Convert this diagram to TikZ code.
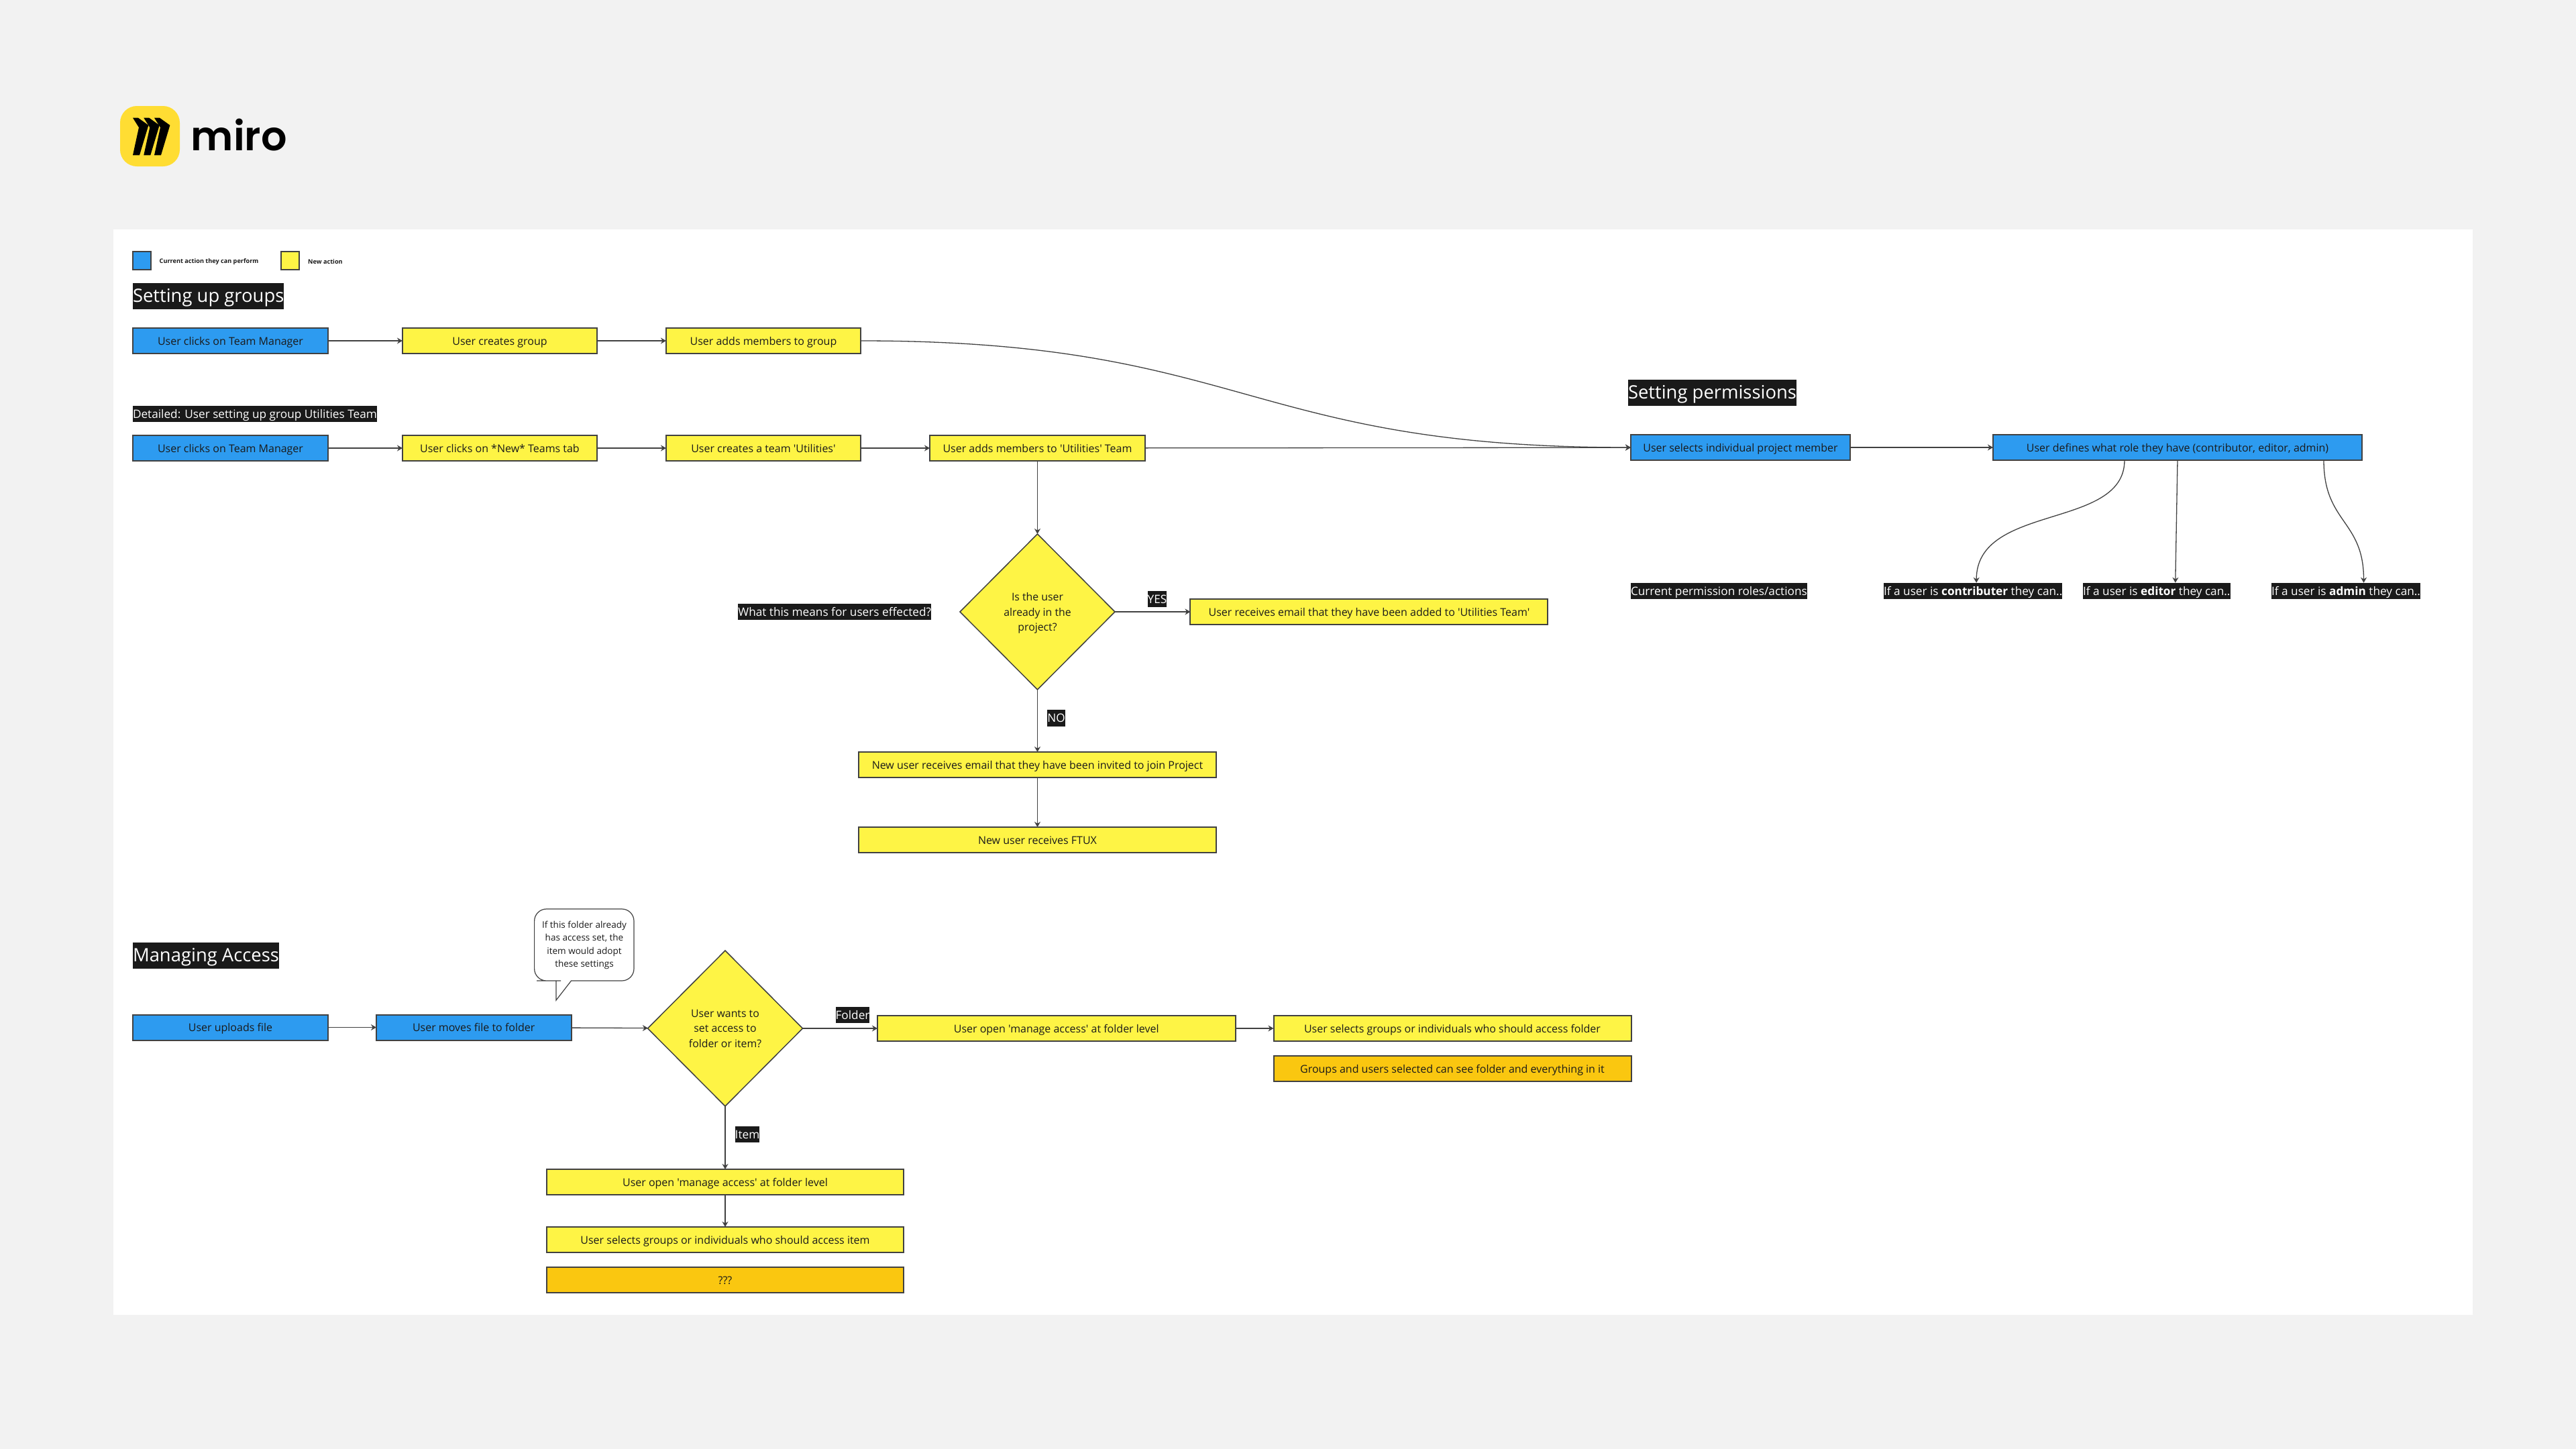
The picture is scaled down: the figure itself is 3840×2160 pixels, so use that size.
\documentclass[tikz,border=0pt]{standalone}
\usepackage{fontspec}
\setmainfont{Open Sans}[Ligatures=TeXOff]
\newfontfamily\logofont{Poppins SemiBold}
\usetikzlibrary{positioning}
\usetikzlibrary{arrows.meta}
\usetikzlibrary{shapes.geometric}
\definecolor{pagegrey}{HTML}{F2F2F2}
\definecolor{miroink}{HTML}{1A1A1A}
\definecolor{miroline}{HTML}{414141}
\definecolor{miroblue}{HTML}{2D9BF0}
\definecolor{miroyellow}{HTML}{FEF445}
\definecolor{miroorange}{HTML}{FAC710}
\definecolor{logoyellow}{HTML}{FFDD33}
\tikzset{
  actionbox/.style= {
    rectangle,
    draw = miroline,
    line width = 0.2mm,
    minimum height = 3.8mm,
    inner sep = 0mm,
    outer sep = 0mm,
    text height = 1.6mm,
    text depth = 0.4mm,
    text = miroink,
    font = \fontsize{4.55}{6.3}\selectfont
  },
  bluebox/.style= {actionbox, fill = miroblue, minimum width = #1},
  yellowbox/.style= {actionbox, fill = miroyellow, minimum width = #1},
  orangebox/.style= {actionbox, fill = miroorange, minimum width = #1},
  decision/.style= {
    diamond,
    aspect = 1,
    draw = miroline,
    line width = 0.15mm,
    fill = miroyellow,
    minimum width = 23.1mm,
    minimum height = 23.2mm,
    inner sep = 0mm,
    outer sep = 0mm,
    align = center,
    text depth = 0mm,
    text = miroink,
    font = \fontsize{4.5}{6.4}\selectfont
  },
  tag/.style= {
    rectangle,
    fill = miroink,
    text = white,
    inner xsep = 0mm,
    inner ysep = 0mm,
    outer sep = 0mm,
    minimum height = 2.45mm,
    text height = 1.6mm,
    text depth = 0.4mm,
    font = \fontsize{4.9}{6.3}\selectfont
  },
  heading/.style= {
    tag,
    minimum height = 3.9mm,
    text height = 2.6mm,
    text depth = 0.84mm,
    font = \fontsize{7.8}{9}\selectfont
  },
  swatch/.style= {actionbox, minimum width = 2.7mm, minimum height = 2.7mm},
  legendtext/.style= {
    inner sep = 0mm,
    text = miroink,
    font = \fontsize{2.6}{3}\selectfont\bfseries
  },
  flowarrow/.style= {
    draw = miroline,
    line width = 0.13mm,
    -{Stealth[length = 0.8mm, width = 0.9mm]}
  }
}

\begin{document}
\begin{tikzpicture}[x=0.1mm,y=-0.1mm]
  \fill[pagegrey] (0,0) rectangle (3840,2160);
  \useasboundingbox (0,0) rectangle (3840,2160);
  \fill[white] (169,342) rectangle (3686,1960);

  % logo
  \fill[logoyellow,rounded corners=2.5mm] (179,158) rectangle (268,248);
  \foreach \bladeshift in {0,16.3,32} {
    \fill[black,xshift=\bladeshift*0.1mm]
      (198,175.7) -- (206,175.7) -- (221.4,186.7) -- (208,231.3)
      -- (198,231.3) -- (207,190) -- cycle;
  }
  \node[anchor=base west,inner sep=0mm,font=\logofont\fontsize{17.2}{18}\selectfont] (logotext) at (284,224) {miro};

  % legend
  \node[swatch,fill=miroblue] (keyblue) at (211.5,388.5) {};
  \node[legendtext,right=1.2mm of keyblue,yshift=-0.15mm] (keybluetext) {Current action they can perform};
  \node[swatch,fill=miroyellow] (keyyellow) at (432,388.5) {};
  \node[legendtext,right=1.3mm of keyyellow,yshift=-0.15mm] (keyyellowtext) {New action};

  % setting up groups
  \node[heading,anchor=west] (groupshead) at (198,441.5) {Setting up groups};
  \node[bluebox=29.1mm,anchor=west] (clickone) at (198,508) {User clicks on Team Manager};
  \node[yellowbox=29mm,right=11.1mm of clickone] (creategroup) {User creates group};
  \node[yellowbox=29mm,right=10.3mm of creategroup] (addgroup) {User adds members to group};
  \draw[flowarrow] (clickone) -- (creategroup);
  \draw[flowarrow] (creategroup) -- (addgroup);

  \node[tag,anchor=west] (detailhead) at (198,617) {Detailed: User setting up group Utilities Team};
  \node[bluebox=29.1mm,anchor=west] (clicktwo) at (198,668) {User clicks on Team Manager};
  \node[yellowbox=29mm,right=11.1mm of clicktwo] (newtab) {User clicks on *New* Teams tab};
  \node[yellowbox=29mm,right=10.3mm of newtab] (createteam) {User creates a team 'Utilities'};
  \node[yellowbox=32.1mm,right=10.3mm of createteam] (addteam) {User adds members to 'Utilities' Team};
  \draw[flowarrow] (clicktwo) -- (newtab);
  \draw[flowarrow] (newtab) -- (createteam);
  \draw[flowarrow] (createteam) -- (addteam);

  \node[decision,below=10.9mm of addteam] (inproject) {Is the user\\already in the\\project?};
  \draw[flowarrow] (addteam) -- (inproject);
  \node[tag,left=4.3mm of inproject] (effecthead) {What this means for users effected?};
  \node[yellowbox=53.3mm,right=11.25mm of inproject] (addedmail) {User receives email that they have been added to 'Utilities Team'};
  \node[yellowbox=53.3mm,below=9.3mm of inproject] (invitemail) {New user receives email that they have been invited to join Project};
  \node[yellowbox=53.3mm,below=7.4mm of invitemail] (ftux) {New user receives FTUX};
  \node[tag] (yeslabel) at (1725,893) {YES};
  \node[tag] (nolabel) at (1574.5,1070.5) {NO};
  \draw[flowarrow] (inproject) -- (addedmail);
  \draw[flowarrow] (inproject) -- (invitemail);
  \draw[flowarrow] (invitemail) -- (ftux);

  % setting permissions
  \node[heading,anchor=west] (permhead) at (2427,585.5) {Setting permissions};
  \node[bluebox=32.7mm,anchor=west] (selectmember) at (2431,667) {User selects individual project member};
  \node[bluebox=55mm,right=21.3mm of selectmember] (defineroles) {User defines what role they have (contributor, editor, admin)};
  \draw[flowarrow] (addgroup.east) .. controls +(574,0) and +(-574,0) .. (selectmember.west);
  \draw[flowarrow] (addteam) -- (selectmember);
  \draw[flowarrow] (selectmember) -- (defineroles);

  \node[tag,anchor=west] (rolehead) at (2431,881) {Current permission roles/actions};
  \node[tag,anchor=west] (contribtag) at (2808,881) {If a user is \textbf{contributer} they can..};
  \node[tag,anchor=west] (editortag) at (3105,881) {If a user is \textbf{editor} they can..};
  \node[tag,anchor=west] (admintag) at (3386,881) {If a user is \textbf{admin} they can..};
  \draw[flowarrow] ([xshift=-7.9mm]defineroles.south) .. controls +(0,104) and +(0,-119) .. ([xshift=0.5mm]contribtag.north);
  \draw[flowarrow] (defineroles.south) -- ([xshift=2.8mm]editortag.north);
  \draw[flowarrow] ([xshift=21.8mm]defineroles.south) .. controls +(0,94) and +(0,-94) .. ([xshift=2.65mm]admintag.north);

  % managing access
  \node[heading,anchor=west] (accesshead) at (198,1424.5) {Managing Access};
  \node[bluebox=29.1mm,anchor=west] (upload) at (198,1531.5) {User uploads file};
  \node[bluebox=29.05mm,right=7.2mm of upload] (movefile) {User moves file to folder};
  \node[decision] (accesschoice) at (1081,1533) {User wants to\\set access to\\folder or item?};
  \draw[flowarrow] (upload) -- (movefile);
  \draw[flowarrow] (movefile) -- (accesschoice);

  \draw[miroline,line width=0.12mm,fill=white] (851.5,1462) [rounded corners=1.8mm] -- (945,1462) -- (945,1355)
    -- (796.6,1355) -- (796.6,1462) -- (818,1462) [sharp corners] -- (829,1462) -- (829,1491) -- cycle;
  \node[align=center,inner sep=0mm,text=miroink,font=\fontsize{3.85}{5.5}\selectfont] (foldernote) at (871,1409)
    {If this folder already\\has access set, the\\item would adopt\\these settings};

  \node[yellowbox=53.35mm,right=11.15mm of accesschoice] (openfolder) {User open 'manage access' at folder level};
  \node[yellowbox=53.3mm,right=5.7mm of openfolder] (selectfolder) {User selects groups or individuals who should access folder};
  \node[orangebox=53.3mm,below=2.2mm of selectfolder] (seefolder) {Groups and users selected can see folder and everything in it};
  \node[tag] (folderlabel) at (1271,1513) {Folder};
  \draw[flowarrow] (accesschoice) -- (openfolder);
  \draw[flowarrow] (openfolder) -- (selectfolder);

  \node[yellowbox=53.25mm,below=9.4mm of accesschoice] (openitem) {User open 'manage access' at folder level};
  \node[yellowbox=53.25mm,below=4.8mm of openitem] (selectitem) {User selects groups or individuals who should access item};
  \node[orangebox=53.25mm,below=2.2mm of selectitem] (unknownitem) {???};
  \node[tag] (itemlabel) at (1114,1691) {Item};
  \draw[flowarrow] (accesschoice) -- (openitem);
  \draw[flowarrow] (openitem) -- (selectitem);

\end{tikzpicture}
\end{document}
